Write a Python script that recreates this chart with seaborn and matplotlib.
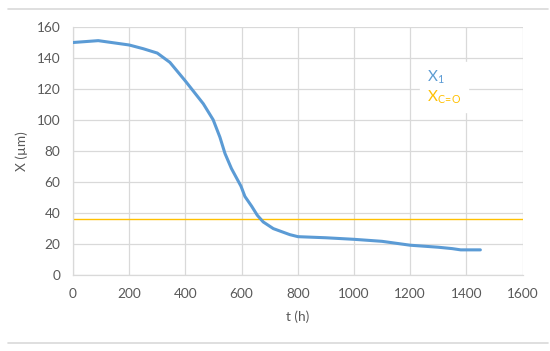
import matplotlib
matplotlib.use("Agg")
import matplotlib.pyplot as plt
import seaborn as sns
import pandas as pd
from matplotlib.lines import Line2D

t_h = [0, 90, 200, 250, 300, 345, 400, 464, 499, 523, 541, 564, 598, 612, 636, 656, 677, 713, 772, 801, 900, 1000, 1100, 1200, 1300, 1350, 1380, 1450]
x1_um = [149.8, 151.0, 148.2, 145.8, 143.0, 137.0, 125.0, 110.3, 100.0, 88.8, 78.3, 68.6, 57.2, 50.6, 44.3, 38.5, 34.2, 29.9, 26.0, 24.7, 24.0, 23.0, 21.7, 19.2, 17.9, 17.0, 16.2, 16.2]
xco_um = 35.9
x_ticks = [0, 200, 400, 600, 800, 1000, 1200, 1400, 1600]
y_ticks = [0, 20, 40, 60, 80, 100, 120, 140, 160]

blue = "#5B9BD5"
orange = "#FFC000"
grid_c = "#D9D9D9"
txt_c = "#595959"

sns.set_theme(style="white")
plt.rcParams['font.family'] = ['Lato', 'DejaVu Sans']
plt.rcParams['mathtext.fontset'] = 'custom'
plt.rcParams['mathtext.rm'] = 'Lato'

fig = plt.figure(figsize=(5.5, 3.51), dpi=100)
ax = fig.add_axes([0.1327, 0.2165, 0.8173, 0.7075])

df = pd.DataFrame({"t": t_h, "x": x1_um})
sns.lineplot(data=df, x="t", y="x", ax=ax, color=blue, linewidth=2.2, zorder=3)
ax.axhline(xco_um, color=orange, linewidth=1.0, zorder=2)

ax.set_xlim(0, 1600)
ax.set_ylim(0, 160)
ax.set_xticks(x_ticks)
ax.set_yticks(y_ticks)
ax.grid(True, color=grid_c, linewidth=0.9)
ax.set_axisbelow(True)
for s in ["top", "right"]:
    ax.spines[s].set_visible(False)
for s in ["left", "bottom"]:
    ax.spines[s].set_color(grid_c)
    ax.spines[s].set_linewidth(0.9)
ax.tick_params(axis="both", colors=txt_c, labelsize=9.8, length=0, pad=9)
ax.set_xlabel("t (h)", color=txt_c, fontsize=9.8, labelpad=8)
ax.set_ylabel("X (\u00b5m)", color=txt_c, fontsize=9.8, labelpad=6)

handles = [Line2D([], [], color=blue), Line2D([], [], color=orange)]
leg = ax.legend(handles, [r"$\mathregular{X_1}$", r"$\mathregular{X_{C\!=\!O}}$"],
                loc="upper left", bbox_to_anchor=(0.756, 0.89), handlelength=0,
                handletextpad=0, frameon=True, fancybox=False, framealpha=1,
                edgecolor="white", fontsize=11, borderpad=0.45, labelspacing=0.15)
for txt, c in zip(leg.get_texts(), [blue, orange]):
    txt.set_color(c)
for h in leg.legend_handles:
    h.set_visible(False)

fig.add_artist(Line2D([8/550, 548/550], [1-9/351, 1-9/351], color=grid_c, linewidth=1.2))
fig.add_artist(Line2D([8/550, 548/550], [1-343/351, 1-343/351], color=grid_c, linewidth=1.2))

fig.savefig("out.png", dpi=100)
